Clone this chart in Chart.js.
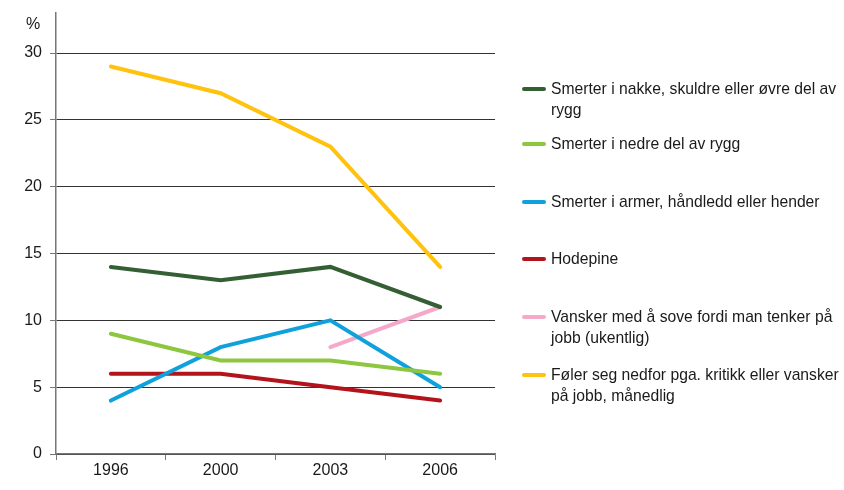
<!DOCTYPE html>
<html lang="no">
<head>
    <meta charset="UTF-8">
    <title>Plager etter år</title>
    <style>
        body { margin: 0; background: #fff; font-family: "Liberation Sans", Arial, sans-serif; }
        .wrap { position: relative; width: 844px; height: 490px; }
        #chart { position: absolute; left: 0; top: 0; }
        #legend { position: absolute; left: 522px; top: 78px; width: 322px; color: #1a1a1a; font-size: 15.7px; line-height: 21px; }
        .item { position: absolute; left: 0; display: flex; align-items: flex-start; }
        .swatch { width: 24px; height: 4px; margin-top: 9px; margin-right: 5px; border-radius: 2px; flex: none; }
        .label { width: 292px; }
    </style>
</head>
<body>
<div class="wrap">
    <canvas id="chart" width="844" height="490"></canvas>
    <div id="legend"></div>
</div>
<script src="https://cdn.jsdelivr.net/npm/chart.js@4.4.0/dist/chart.umd.js"></script>
<script>
    // data
    const years = ['1996', '2000', '2003', '2006'];
    const nakke = [14, 13, 14, 11];
    const nedreRygg = [9, 7, 7, 6];
    const armer = [4, 8, 10, 5];
    const hodepine = [6, 6, 5, 4];
    const sove = [null, null, 8, 11];
    const nedfor = [29, 27, 23, 14];

    const seriesNames = [
        'Smerter i nakke, skuldre eller øvre del av rygg',
        'Smerter i nedre del av rygg',
        'Smerter i armer, håndledd eller hender',
        'Hodepine',
        'Vansker med å sove fordi man tenker på jobb (ukentlig)',
        'Føler seg nedfor pga. kritikk eller vansker på jobb, månedlig'
    ];
    const seriesData = [nakke, nedreRygg, armer, hodepine, sove, nedfor];
    const seriesColors = ['#345e34', '#8dc63f', '#0ea1dc', '#b3141c', '#f4a9ca', '#ffc20e'];
    const legendTops = [0, 55, 113, 170, 228, 286];

    const pctLabel = {
        id: 'pctLabel',
        afterDraw(chart) {
            const ctx = chart.ctx;
            const y = chart.scales.y;
            ctx.save();
            ctx.font = '16px "Liberation Sans", Arial, sans-serif';
            ctx.fillStyle = '#1a1a1a';
            ctx.textAlign = 'center';
            ctx.textBaseline = 'middle';
            ctx.fillText('%', 33, y.getPixelForValue(33) + 12);
            ctx.restore();
        }
    };

    const chart = new Chart(document.getElementById('chart'), {
        type: 'line',
        data: {
            labels: years,
            datasets: seriesNames.map((name, i) => ({
                label: name,
                data: seriesData[i],
                borderColor: seriesColors[i],
                backgroundColor: seriesColors[i],
                borderWidth: 4,
                pointRadius: 0,
                tension: 0,
                borderCapStyle: 'round',
                spanGaps: false
            }))
        },
        options: {
            responsive: false,
            animation: false,
            layout: { autoPadding: false, padding: { top: 13, right: 349, left: 0, bottom: 0 } },
            plugins: { legend: { display: false }, tooltip: { enabled: false } },
            scales: {
                x: {
                    offset: true,
                    grid: { offset: true, drawOnChartArea: false, tickLength: 6, color: '#777' },
                    border: { color: '#777', width: 1.5 },
                    ticks: { color: '#1a1a1a', font: { size: 16, family: '"Liberation Sans", Arial' }, padding: 1 },
                    afterFit(s) { s.height = 36; }
                },
                y: {
                    min: 0,
                    max: 33,
                    ticks: { stepSize: 5, color: '#1a1a1a', font: { size: 16, family: '"Liberation Sans", Arial' }, padding: 8 },
                    afterBuildTicks(s) { s.ticks = s.ticks.filter(t => t.value % 5 === 0); },
                    grid: { color: '#333', tickLength: 6, drawTicks: true, tickColor: '#777' },
                    border: { color: '#777', width: 1.5 },
                    afterFit(s) { s.width = 56; s.paddingTop = 0; s.paddingBottom = 0; }
                }
            }
        },
        plugins: [pctLabel]
    });

    // legend on the right, built from the datasets
    const legend = document.getElementById('legend');
    chart.data.datasets.forEach((ds, i) => {
        const item = document.createElement('div');
        item.className = 'item';
        item.style.top = legendTops[i] + 'px';
        item.innerHTML = '<span class="swatch" style="background:' + ds.borderColor + '"></span><span class="label">' + ds.label + '</span>';
        legend.appendChild(item);
    });
</script>
</body>
</html>
